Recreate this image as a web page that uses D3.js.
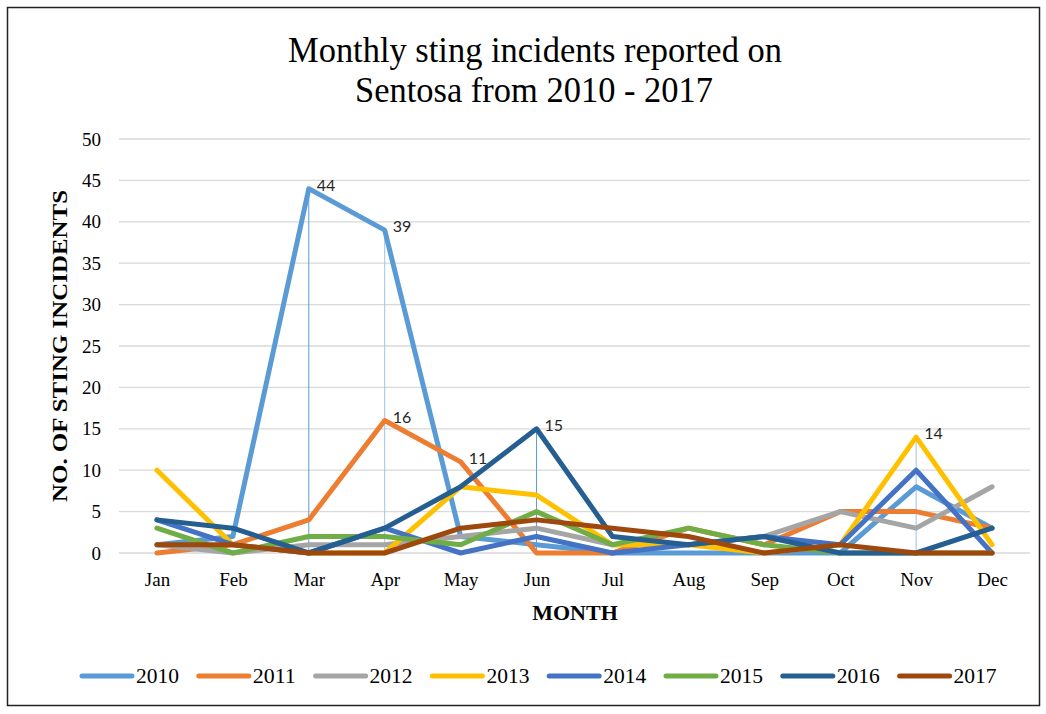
<!DOCTYPE html>
<html>
<head>
<meta charset="utf-8">
<script src="https://cdn.jsdelivr.net/npm/d3@7"></script>
<style>
  html, body { margin: 0; padding: 0; background: #fff; }
  svg { display: block; }
</style>
</head>
<body>
<svg id="chart" width="1046" height="714"></svg>
<script>
// Monthly sting incidents per year
const months = ["Jan","Feb","Mar","Apr","May","Jun","Jul","Aug","Sep","Oct","Nov","Dec"];
const years = ["2010","2011","2012","2013","2014","2015","2016","2017"];
const v2010 = [1, 2, 44, 39, 2, 1, 0, 0, 0, 0, 8, 3];
const v2011 = [0, 1, 4, 16, 11, 0, 0, 3, 1, 5, 5, 3];
const v2012 = [1, 0, 1, 1, 2, 3, 1, 1, 2, 5, 3, 8];
const v2013 = [10, 1, 0, 0, 8, 7, 1, 1, 0, 1, 14, 1];
const v2014 = [4, 1, 0, 3, 0, 2, 0, 1, 2, 1, 10, 0];
const v2015 = [3, 0, 2, 2, 1, 5, 1, 3, 1, 0, 0, 0];
const v2016 = [4, 3, 0, 3, 8, 15, 2, 1, 2, 0, 0, 3];
const v2017 = [1, 1, 0, 0, 3, 4, 3, 2, 0, 1, 0, 0];
const yTicks = [0, 5, 10, 15, 20, 25, 30, 35, 40, 45, 50];
// labelled points: [series index, month index]
const labelled = [[0, 2], [0, 3], [1, 3], [1, 4], [6, 5], [3, 10]];
// points with a drop line to the axis: [series index, month index]
const dropped = [[0, 2], [0, 3], [6, 5], [3, 10]];

const seriesValues = [v2010, v2011, v2012, v2013, v2014, v2015, v2016, v2017];
const colors = ["#5B9BD5","#ED7D31","#A5A5A5","#FFC000","#4472C4","#70AD47","#255E91","#9E480E"];

const svg = d3.select("#chart");
const serif = "'Liberation Serif', 'Times New Roman', serif";

// outer frame
svg.append("rect")
  .attr("x", 7.5).attr("y", 7.5).attr("width", 1032).attr("height", 698)
  .attr("fill", "#fff").attr("stroke", "#222").attr("stroke-width", 1.5);

// scales
const x = d3.scalePoint().domain(months).range([119, 1030]).padding(0.5);
const y = d3.scaleLinear().domain([0, 50]).range([553, 139]);

// gridlines
svg.append("g")
  .selectAll("line").data(yTicks).join("line")
  .attr("x1", 119).attr("x2", 1030)
  .attr("y1", d => y(d)).attr("y2", d => y(d))
  .attr("stroke", "#D9D9D9").attr("stroke-width", 1.3);

// y axis labels
const yAxis = svg.append("g").attr("transform", "translate(104,0)")
  .call(d3.axisLeft(y).tickValues(yTicks).tickSize(0).tickPadding(3));
yAxis.select(".domain").remove();
yAxis.selectAll("text").attr("font-family", serif).attr("font-size", 19).attr("fill", "#000");

// x axis labels
const xAxis = svg.append("g").attr("transform", "translate(0,569)")
  .call(d3.axisBottom(x).tickSize(0).tickPadding(4));
xAxis.select(".domain").remove();
xAxis.selectAll("text").attr("font-family", serif).attr("font-size", 19).attr("fill", "#000");

// drop lines
svg.append("g").selectAll("line").data(dropped).join("line")
  .attr("x1", d => x(months[d[1]])).attr("x2", d => x(months[d[1]]))
  .attr("y1", d => y(seriesValues[d[0]][d[1]])).attr("y2", y(0))
  .attr("stroke", (d, i) => i % 2 === 0 ? "#5B9BD5" : "#9DC3E6")
  .attr("stroke-width", 1);

// series lines
const line = d3.line()
  .x((d, i) => x(months[i]))
  .y(d => y(d));

svg.append("g").selectAll("path").data(seriesValues).join("path")
  .attr("d", d => line(d))
  .attr("fill", "none")
  .attr("stroke", (d, i) => colors[i])
  .attr("stroke-width", 5)
  .attr("stroke-linejoin", "round")
  .attr("stroke-linecap", "round");

// data labels
svg.append("g").selectAll("text").data(labelled).join("text")
  .attr("x", d => x(months[d[1]]) + 8)
  .attr("y", d => y(seriesValues[d[0]][d[1]]) + 2)
  .attr("font-family", "Lato, 'Noto Sans', sans-serif")
  .attr("font-size", 16)
  .attr("fill", "#262626")
  .text(d => seriesValues[d[0]][d[1]]);

// title
const title = svg.append("g").attr("font-family", serif).attr("font-size", 35)
  .attr("text-anchor", "middle").attr("fill", "#000");
title.append("text").attr("x", 535).attr("y", 62)
  .attr("textLength", 494).attr("lengthAdjust", "spacingAndGlyphs")
  .text("Monthly sting incidents reported on");
title.append("text").attr("x", 534).attr("y", 102)
  .attr("textLength", 358).attr("lengthAdjust", "spacingAndGlyphs")
  .text("Sentosa from 2010 - 2017");

// axis titles
svg.append("text")
  .attr("transform", "translate(67,346) rotate(-90)")
  .attr("text-anchor", "middle")
  .attr("font-family", serif).attr("font-size", 22).attr("font-weight", "bold")
  .attr("textLength", 312).attr("lengthAdjust", "spacingAndGlyphs")
  .text("NO. OF STING INCIDENTS");

svg.append("text")
  .attr("x", 575).attr("y", 620)
  .attr("text-anchor", "middle")
  .attr("font-family", serif).attr("font-size", 22).attr("font-weight", "bold")
  .text("MONTH");

// legend
const legend = svg.append("g").selectAll("g").data(years).join("g")
  .attr("transform", (d, i) => `translate(${82 + i * 116.8},676)`);
legend.append("line")
  .attr("x1", 0).attr("x2", 50).attr("y1", 0).attr("y2", 0)
  .attr("stroke", (d, i) => colors[i]).attr("stroke-width", 5)
  .attr("stroke-linecap", "round");
legend.append("text")
  .attr("x", 54).attr("y", 7)
  .attr("font-family", serif).attr("font-size", 20).attr("fill", "#000")
  .attr("textLength", 43).attr("lengthAdjust", "spacingAndGlyphs")
  .text(d => d);
</script>
</body>
</html>
